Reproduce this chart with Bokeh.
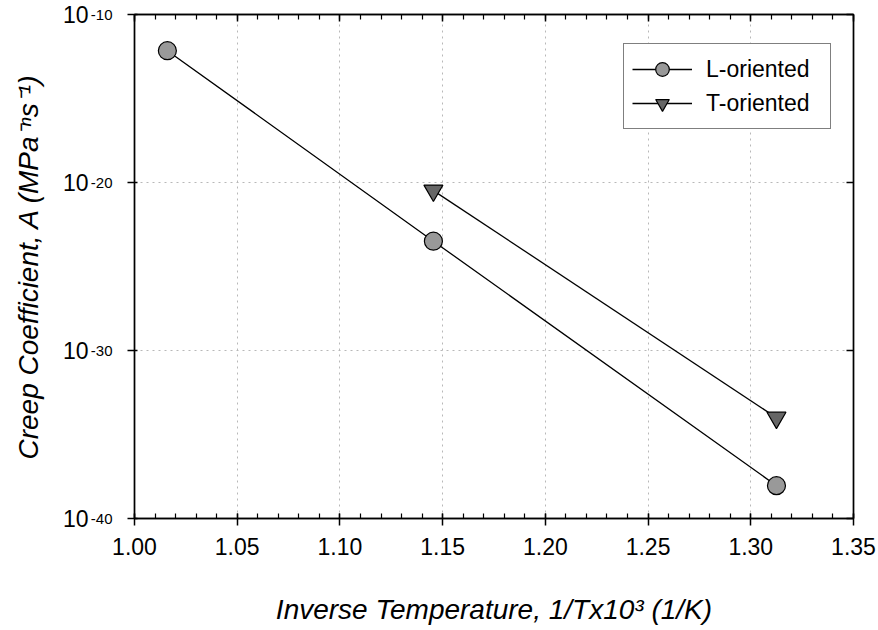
from bokeh.plotting import figure
from bokeh.models import (LinearAxis, LogAxis, FixedTicker, Range1d, LogScale,
                          Legend, LegendItem, NumeralTickFormatter,
                          CustomLabelingPolicy)
from bokeh.embed import file_html
from bokeh.resources import INLINE

# ---- data ----
l_x = [1.016, 1.1455, 1.3125]
l_a = [7e-13, 3.2e-24, 9e-39]
t_x = [1.1455, 1.3125]
t_a = [3.3e-21, 1.0e-34]

x_ticks = [1.00, 1.05, 1.10, 1.15, 1.20, 1.25, 1.30, 1.35]
x_minor = [round(1.00 + 0.01 * i, 2) for i in range(36)]
y_ticks = [1e-40, 1e-30, 1e-20, 1e-10]
y_tick_mantissa = ["10", "10", "10", "10"]
y_tick_exponents = ["-40", "-30", "-20", "-10"]

FONT = "Liberation Sans"

p = figure(width=878, height=630, output_backend="svg", toolbar_location=None,
           x_range=Range1d(1.0, 1.35), y_range=Range1d(1e-40, 1e-10),
           y_axis_type="log",
           min_border_left=134, min_border_right=25, min_border_top=14,
           min_border_bottom=112)
p.background_fill_color = "white"
p.border_fill_color = "white"
p.outline_line_color = "black"
p.outline_line_width = 1.3

# grid
p.xgrid.ticker = FixedTicker(ticks=x_ticks)
p.ygrid.ticker = FixedTicker(ticks=y_ticks)
for g in (p.xgrid, p.ygrid):
    g.grid_line_color = "#b8b8b8"
    g.grid_line_dash = "2 4"
    g.grid_line_width = 1

hide_labels = CustomLabelingPolicy(code="""
try { for (const i of Array.from(indices.ones())) { indices.unset(i) } } catch (e) {}
return indices
""")

def style_line_axis(ax):
    ax.axis_line_width = 1.5
    ax.axis_line_color = "black"
    ax.major_tick_line_color = "black"
    ax.major_tick_line_width = 1.5
    ax.minor_tick_line_color = "black"
    ax.minor_tick_line_width = 1.2

def style_text_only_axis(ax):
    ax.axis_line_color = None
    ax.major_tick_line_color = None
    ax.minor_tick_line_color = None
    ax.major_tick_in = 0
    ax.major_tick_out = 0
    ax.minor_tick_in = 0
    ax.minor_tick_out = 0

# bottom axis
xa = p.xaxis[0]
xa.ticker = FixedTicker(ticks=x_ticks, minor_ticks=x_minor)
xa.formatter = NumeralTickFormatter(format="0.00")
style_line_axis(xa)
xa.major_label_text_font = FONT
xa.major_label_text_font_size = "23px"
xa.major_label_text_color = "black"
xa.major_tick_in = 5
xa.major_tick_out = 7
xa.minor_tick_in = 5
xa.minor_tick_out = 0
xa.major_label_standoff = 12
xa.axis_label = "Inverse Temperature, 1/Tx10\u00b3 (1/K)"
xa.axis_label_text_font = FONT
xa.axis_label_text_font_size = "28px"
xa.axis_label_text_font_style = "italic"
xa.axis_label_text_color = "black"
xa.axis_label_standoff = 36

# left axis: line + ticks only
ya = p.yaxis[0]
ya.ticker = FixedTicker(ticks=y_ticks, minor_ticks=[])
ya.major_label_overrides = {t: "" for t in y_ticks}
ya.major_label_text_font_size = "1px"
ya.major_label_standoff = 0
ya.major_label_policy = hide_labels
style_line_axis(ya)
ya.major_tick_in = 3
ya.major_tick_out = 7

# exponent labels of the y ticks (raised like superscripts)
yexp = LogAxis(ticker=FixedTicker(ticks=y_ticks, minor_ticks=[]),
               major_label_overrides={t: s for t, s in zip(y_ticks, y_tick_exponents)})
style_text_only_axis(yexp)
yexp.major_label_text_font = FONT
yexp.major_label_text_font_size = "15px"
yexp.major_label_text_color = "black"
yexp.major_label_text_baseline = "alphabetic"
yexp.major_label_standoff = 15
p.add_layout(yexp, "left")

# mantissa labels ("10") of the y ticks, plus the y axis title
yman = LogAxis(ticker=FixedTicker(ticks=y_ticks, minor_ticks=[]),
               major_label_overrides={t: s for t, s in zip(y_ticks, y_tick_mantissa)})
style_text_only_axis(yman)
yman.major_label_text_font = FONT
yman.major_label_text_font_size = "23px"
yman.major_label_text_color = "black"
yman.major_label_standoff = -1
yman.axis_label = "Creep Coefficient, A (MPa\u207b\u207fs\u207b\u00b9)"
yman.axis_label_text_font = FONT
yman.axis_label_text_font_size = "28px"
yman.axis_label_text_font_style = "italic"
yman.axis_label_text_color = "black"
yman.axis_label_standoff = 16
p.add_layout(yman, "left")

# top axis (ticks only)
top = LinearAxis(ticker=FixedTicker(ticks=x_ticks, minor_ticks=x_minor),
                 major_label_overrides={t: "" for t in x_ticks},
                 major_label_text_font_size="1px", major_label_standoff=0,
                 major_label_policy=hide_labels)
style_line_axis(top)
top.major_tick_in = 7
top.major_tick_out = 0
top.minor_tick_in = 5
top.minor_tick_out = 0
p.add_layout(top, "above")

# right axis (ticks only)
right = LogAxis(ticker=FixedTicker(ticks=y_ticks, minor_ticks=[]),
                major_label_overrides={t: "" for t in y_ticks},
                major_label_text_font_size="1px", major_label_standoff=0,
                major_label_policy=hide_labels)
style_line_axis(right)
right.major_tick_in = 7
right.major_tick_out = 0
p.add_layout(right, "right")

# data
l_line = p.line(l_x, l_a, line_color="black", line_width=1.3)
l_pts = p.scatter(l_x, l_a, marker="circle", size=18, fill_color="#999999",
                  line_color="black", line_width=1.2)
t_line = p.line(t_x, t_a, line_color="black", line_width=1.3)
t_pts = p.scatter(t_x, t_a, marker="inverted_triangle", size=19, fill_color="#666666",
                  line_color="black", line_width=1.2)

legend = Legend(items=[LegendItem(label="L-oriented", renderers=[l_line, l_pts]),
                       LegendItem(label="T-oriented", renderers=[t_line, t_pts])],
                location=(489, 389))
legend.label_text_font = FONT
legend.label_text_font_size = "23px"
legend.label_text_color = "black"
legend.glyph_width = 60
legend.glyph_height = 34
legend.label_height = 34
legend.label_width = 116
legend.spacing = 0
legend.padding = 8
legend.margin = 0
legend.label_standoff = 14
legend.border_line_color = "black"
legend.border_line_width = 1.3
legend.background_fill_color = "white"
legend.background_fill_alpha = 1
p.add_layout(legend, "center")

open("out.html", "w").write(file_html(p, INLINE))
